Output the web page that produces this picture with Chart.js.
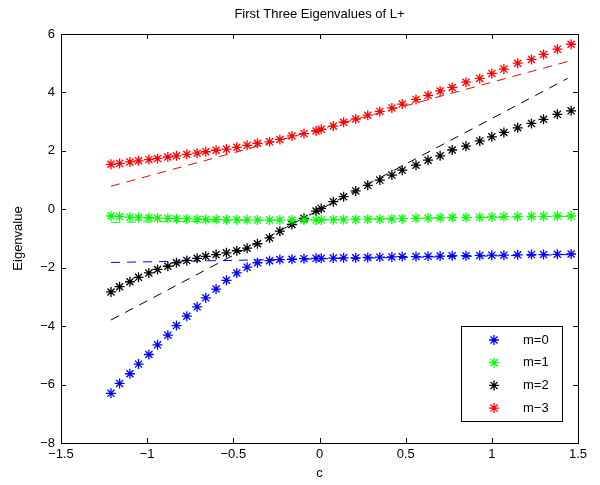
<!DOCTYPE html>
<html lang="en">
<head>
<meta charset="UTF-8">
<title>First Three Eigenvalues of L+</title>
<script src="https://cdn.jsdelivr.net/npm/chart.js"></script>
<style>
    body { margin: 0; background: #fff; }
    #wrap { width: 600px; height: 485px; position: relative; }
</style>
</head>
<body>
<div id="wrap"><canvas id="myChart"></canvas></div>
<script>
// c values, shared by all four series
const cValues = [-1.21, -1.16, -1.10, -1.05, -0.99, -0.94, -0.88, -0.83, -0.77, -0.71,
                 -0.66, -0.60, -0.54, -0.48, -0.42, -0.36, -0.29, -0.23, -0.16, -0.09,
                 -0.02, 0.01, 0.08, 0.14, 0.21, 0.28, 0.35, 0.42, 0.48, 0.56,
                 0.63, 0.70, 0.77, 0.85, 0.93, 1.00, 1.07, 1.15, 1.23, 1.30,
                 1.38, 1.46];

// eigenvalues
const m0 = [-6.30, -5.96, -5.63, -5.30, -4.97, -4.64, -4.31, -3.98, -3.66, -3.34,
            -3.03, -2.73, -2.43, -2.18, -1.98, -1.83, -1.76, -1.72, -1.71, -1.69,
            -1.68, -1.68, -1.67, -1.66, -1.66, -1.65, -1.64, -1.63, -1.62, -1.62,
            -1.61, -1.60, -1.59, -1.59, -1.58, -1.57, -1.57, -1.56, -1.55, -1.55,
            -1.54, -1.53];
const m1 = [-0.23, -0.25, -0.27, -0.28, -0.29, -0.30, -0.31, -0.32, -0.33, -0.34,
            -0.35, -0.35, -0.36, -0.36, -0.36, -0.37, -0.37, -0.37, -0.37, -0.37,
            -0.37, -0.37, -0.36, -0.36, -0.35, -0.34, -0.34, -0.33, -0.32, -0.31,
            -0.30, -0.29, -0.28, -0.28, -0.27, -0.26, -0.25, -0.25, -0.24, -0.24,
            -0.23, -0.23];
const m2 = [-2.83, -2.65, -2.48, -2.33, -2.18, -2.06, -1.95, -1.83, -1.75, -1.68,
            -1.61, -1.55, -1.49, -1.42, -1.33, -1.18, -0.98, -0.75, -0.52, -0.31,
            -0.06, 0.03, 0.26, 0.43, 0.63, 0.82, 1.00, 1.17, 1.34, 1.51,
            1.68, 1.83, 2.03, 2.16, 2.34, 2.48, 2.63, 2.79, 2.94, 3.08,
            3.25, 3.37];
const m3 = [1.54, 1.57, 1.62, 1.66, 1.70, 1.74, 1.79, 1.83, 1.88, 1.92,
            1.97, 2.02, 2.06, 2.12, 2.19, 2.26, 2.31, 2.39, 2.51, 2.59,
            2.68, 2.74, 2.85, 2.98, 3.09, 3.22, 3.35, 3.47, 3.60, 3.76,
            3.90, 4.05, 4.17, 4.35, 4.48, 4.65, 4.80, 5.00, 5.13, 5.30,
            5.48, 5.65];

// dashed approximations: end points only
const fitC = [-1.21, 1.46];
const fitC2 = [-1.21, 1.44];
const fit0 = [-1.82, -1.55];
const fit1 = [-0.45, -0.24];
const fit2 = [-3.79, 4.48];
const fit3 = [0.79, 5.09];

const seriesNames = ['m=0', 'm=1', 'm=2', 'm\u22123'];
const seriesColors = ['#0000ff', '#00ff00', '#000000', '#ff0000'];

const xTicks = [-1.5, -1, -0.5, 0, 0.5, 1, 1.5];
const yTicks = [-8, -6, -4, -2, 0, 2, 4, 6];
const titleText = 'First Three Eigenvalues of L+';

function toPoints(xs, ys) {
    return xs.map((x, i) => ({ x: x, y: ys[i] }));
}
function fmt(v) {
    return v < 0 ? '\u2212' + Math.abs(v) : String(v);
}

const FONT = "'Liberation Sans', Arial, Helvetica, sans-serif";

let datasets = [];
[m0, m1, m2, m3].forEach((vals, i) => {
    datasets.push({
        label: seriesNames[i],
        data: toPoints(cValues, vals),
        showLine: false,
        pointStyle: 'star',
        pointRadius: 5,
        pointBorderWidth: 1.3,
        borderColor: seriesColors[i],
        backgroundColor: seriesColors[i],
        legendEntry: true
    });
});
[fit0, fit1, fit2, fit3].forEach((vals, i) => {
    datasets.push({
        label: seriesNames[i] + ' fit',
        data: toPoints(i === 2 ? fitC2 : fitC, vals),
        showLine: true,
        pointRadius: 0,
        borderWidth: 1,
        borderDash: [9, 7],
        borderColor: seriesColors[i],
        fill: false
    });
});

// box around the plot with inward ticks (matlab style), title centred over the axes
const boxPlugin = {
    id: 'box',
    afterDatasetsDraw(chart) {
        const ctx = chart.ctx;
        const a = chart.chartArea;
        const x = chart.scales.x, y = chart.scales.y;
        ctx.save();
        ctx.strokeStyle = '#000';
        ctx.lineWidth = 1;
        ctx.strokeRect(Math.round(a.left) + 0.5, Math.round(a.top) + 0.5,
                       Math.round(a.right - a.left), Math.round(a.bottom - a.top));
        ctx.beginPath();
        xTicks.forEach(t => {
            let px = Math.round(x.getPixelForValue(t)) + 0.5;
            ctx.moveTo(px, a.bottom); ctx.lineTo(px, a.bottom - 5);
            ctx.moveTo(px, a.top); ctx.lineTo(px, a.top + 5);
        });
        yTicks.forEach(t => {
            let py = Math.round(y.getPixelForValue(t)) + 0.5;
            ctx.moveTo(a.left, py); ctx.lineTo(a.left + 5, py);
            ctx.moveTo(a.right, py); ctx.lineTo(a.right - 5, py);
        });
        ctx.stroke();

        ctx.fillStyle = '#000';
        ctx.font = '13px ' + FONT;
        ctx.textAlign = 'center';
        ctx.textBaseline = 'middle';
        ctx.fillText(titleText, (a.left + a.right) / 2, 14);
        ctx.restore();
    }
};

function drawStar(ctx, cx, cy, r) {
    const d = r * Math.SQRT1_2;
    ctx.beginPath();
    ctx.moveTo(cx - r, cy); ctx.lineTo(cx + r, cy);
    ctx.moveTo(cx, cy - r); ctx.lineTo(cx, cy + r);
    ctx.moveTo(cx - d, cy - d); ctx.lineTo(cx + d, cy + d);
    ctx.moveTo(cx - d, cy + d); ctx.lineTo(cx + d, cy - d);
    ctx.stroke();
}

// legend box in the lower right corner of the axes
const legendPlugin = {
    id: 'boxLegend',
    afterDraw(chart) {
        const ctx = chart.ctx;
        const a = chart.chartArea;
        const items = chart.data.datasets.filter(d => d.legendEntry);
        const w = 101, rowH = 22.7, h = 95;
        const left = a.right - 16 - w, top = a.bottom - 22 - h;
        ctx.save();
        ctx.fillStyle = '#fff';
        ctx.fillRect(left, top, w, h);
        ctx.strokeStyle = '#000';
        ctx.lineWidth = 1;
        ctx.strokeRect(Math.round(left) + 0.5, Math.round(top) + 0.5, w, h);
        ctx.font = '13px ' + FONT;
        ctx.textBaseline = 'middle';
        ctx.textAlign = 'left';
        items.forEach((d, i) => {
            let cy = top + 14 + i * rowH;
            ctx.strokeStyle = d.borderColor;
            ctx.lineWidth = 1.3;
            drawStar(ctx, left + 33, cy, 5);
            ctx.fillStyle = '#000';
            ctx.fillText(d.label, left + 62, cy);
        });
        ctx.restore();
    }
};

let ctx = document.getElementById('myChart');
let myChart = new Chart(ctx, {
    type: 'scatter',
    data: { datasets: datasets },
    options: {
        responsive: true,
        maintainAspectRatio: false,
        animation: false,
        layout: { padding: { left: 0, right: 22, top: 34, bottom: 0 } },
        plugins: {
            legend: { display: false },
            tooltip: { enabled: false },
            title: { display: false }
        },
        scales: {
            x: {
                type: 'linear',
                min: -1.5, max: 1.5,
                afterFit: s => { s.height = 42; },
                afterBuildTicks: s => { s.ticks = xTicks.map(v => ({ value: v })); },
                grid: { display: false, drawTicks: false },
                border: { display: false },
                ticks: { color: '#000', padding: 4, maxRotation: 0,
                         font: { family: FONT, size: 13 }, callback: v => fmt(v) },
                title: { display: true, text: 'c', color: '#000',
                         font: { family: FONT, size: 13 }, padding: { top: 0, bottom: 4 } }
            },
            y: {
                type: 'linear',
                min: -8, max: 6,
                afterFit: s => { s.width = 61; },
                afterBuildTicks: s => { s.ticks = yTicks.map(v => ({ value: v })); },
                grid: { display: false, drawTicks: false },
                border: { display: false },
                ticks: { color: '#000', padding: 6,
                         font: { family: FONT, size: 13 }, callback: v => fmt(v) },
                title: { display: true, text: 'Eigenvalue', color: '#000',
                         font: { family: FONT, size: 13 }, padding: { top: 11, bottom: 0 } }
            }
        }
    },
    plugins: [boxPlugin, legendPlugin]
});
</script>
</body>
</html>
